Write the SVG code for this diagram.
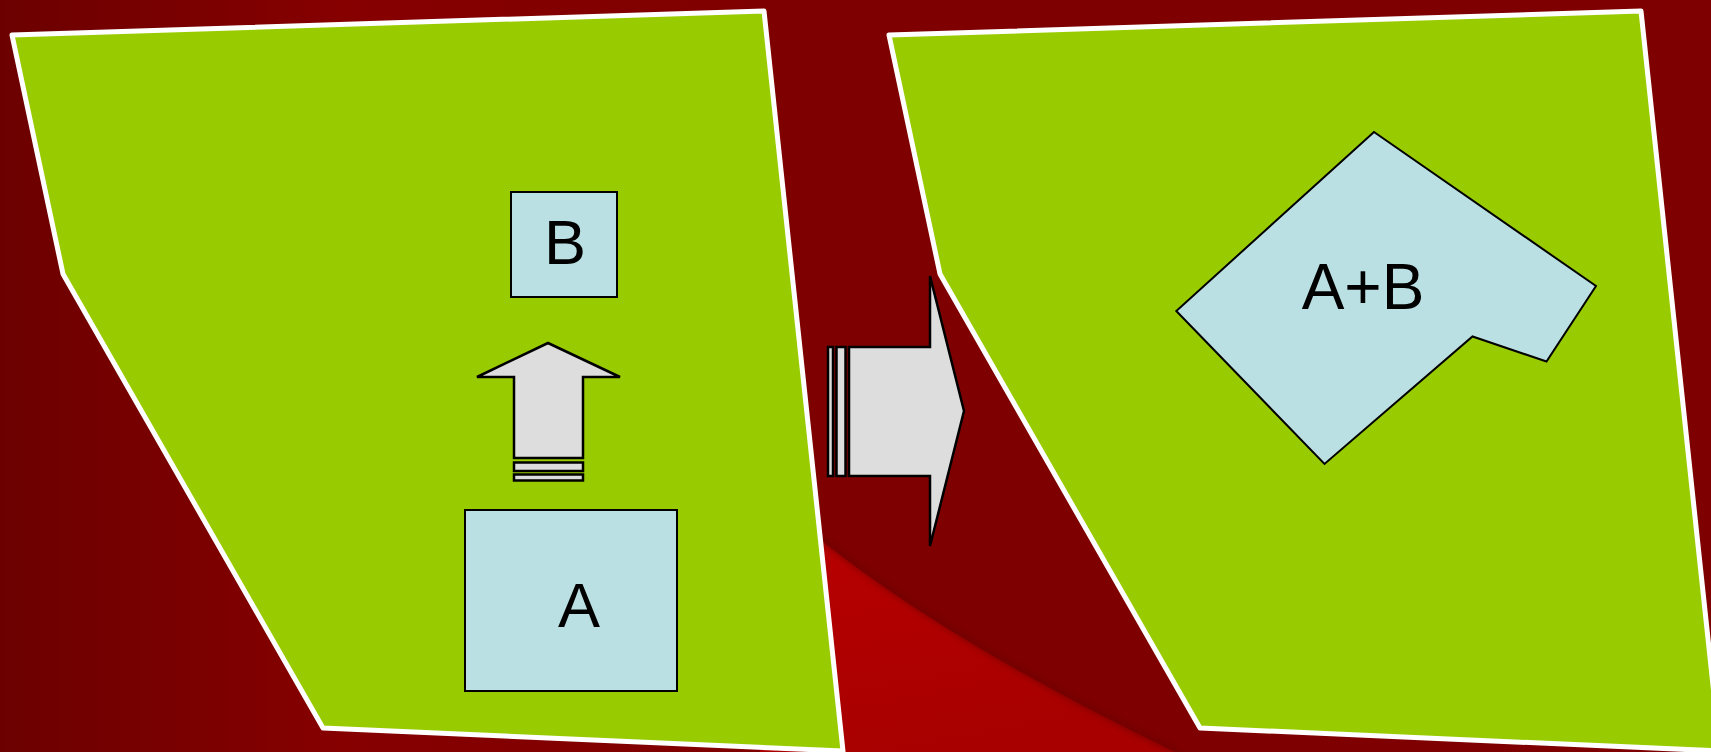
<svg xmlns="http://www.w3.org/2000/svg" width="1711" height="752" viewBox="0 0 1711 752">
  <defs>
    <linearGradient id="bgLeft" x1="0" y1="0" x2="1" y2="0">
      <stop offset="0" stop-color="#6c0000"/>
      <stop offset="0.2" stop-color="#860000"/>
      <stop offset="0.45" stop-color="#7f0000"/>
      <stop offset="1" stop-color="#7f0000"/>
    </linearGradient>
    <linearGradient id="bright" x1="0" y1="0" x2="0.3" y2="1">
      <stop offset="0" stop-color="#bb0000"/>
      <stop offset="1" stop-color="#a80000"/>
    </linearGradient>
    <filter id="soft" x="-10%" y="-10%" width="120%" height="120%">
      <feGaussianBlur stdDeviation="3"/>
    </filter>
    <style>
      .panel { fill: #99cc00; stroke: #ffffff; stroke-width: 5; stroke-linejoin: round; }
      .box { fill: #bbe0e3; stroke: #000000; stroke-width: 2; }
      .arrow { fill: #dddddd; stroke: #000000; stroke-width: 2.5; stroke-linejoin: miter; }
      .label { font-family: "Liberation Sans", Arial, sans-serif; fill: #000000; text-anchor: middle; }
    </style>
  </defs>

  <g id="background">
    <rect x="0" y="0" width="1711" height="752" fill="url(#bgLeft)"/>
    <path d="M 760,488 Q 900,620 1175,752 L 760,752 Z" fill="url(#bright)"/>
    <path d="M 760,486 Q 900,618 1178,752" fill="none" stroke="#6a0000" stroke-opacity="0.6" stroke-width="6" filter="url(#soft)"/>
  </g>

  <g id="panel-left">
    <polygon class="panel" points="12,35 764,11 843,751 323,728 63,274"/>
  </g>
  <g id="panel-right">
    <polygon class="panel" points="889,35 1641,11 1720,751 1200,728 940,274"/>
  </g>

  <g id="node-B">
    <rect class="box" x="511" y="192" width="106" height="105"/>
    <text class="label" x="565" y="264" font-size="63">B</text>
  </g>

  <g id="node-A">
    <rect class="box" x="465" y="510" width="212" height="181"/>
    <text class="label" x="579" y="627" font-size="63">A</text>
  </g>

  <g id="node-AB">
    <polygon class="box" points="1374,132 1596,286 1546.5,361.5 1472.5,336.5 1324.5,464 1176.3,311"/>
    <text class="label" x="1363" y="309" font-size="64">A+B</text>
  </g>

  <g id="connectors">
    <g id="arrow-up">
      <polygon class="arrow" points="548,343 620,377 583,377 583,458 514,458 514,377 477,377"/>
      <rect class="arrow" x="514" y="462.5" width="69" height="8.5"/>
      <rect class="arrow" x="514" y="474.5" width="69" height="6"/>
    </g>
    <g id="arrow-right">
      <rect class="arrow" x="828" y="347" width="5" height="129"/>
      <rect class="arrow" x="836.5" y="347" width="9" height="129"/>
      <polygon class="arrow" points="849,347 930,347 930,276 964,411 930,546 930,476 849,476"/>
    </g>
  </g>
</svg>
